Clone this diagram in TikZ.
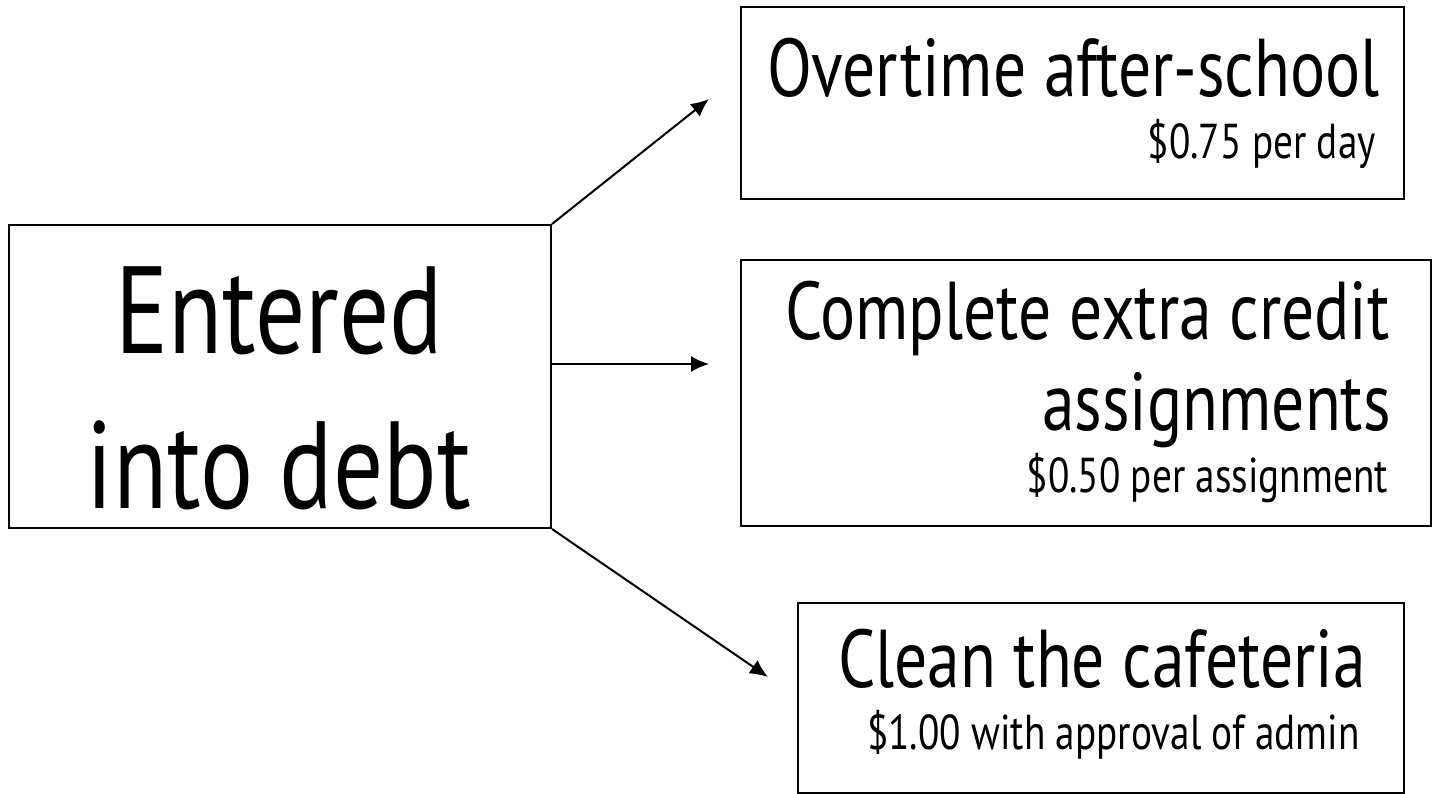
\documentclass[tikz,border=0pt]{standalone}
\usepackage{fontspec}
\newfontfamily\handfont[FakeStretch=0.8]{PT Sans}
\usepackage{tikz}
\usetikzlibrary{arrows.meta}
\usetikzlibrary{positioning}
\tikzset{>={Latex[length=18pt,width=16pt]}}

\begin{document}
\begin{tikzpicture}[x=1pt,y=-1pt,
  card/.style={draw,line width=2pt,anchor=north west,inner sep=0pt},
  headline/.style={font=\handfont\fontsize{82}{90}\selectfont,inner sep=0pt,anchor=base east},
  payline/.style={font=\handfont\fontsize{49}{54}\selectfont,inner sep=0pt,anchor=base east},
  debtline/.style={font=\handfont\fontsize{124}{140}\selectfont,inner sep=0pt,anchor=base}]
  \useasboundingbox (0,0) rectangle (1439,793);
  \node[card,minimum width=542pt,minimum height=303pt] (entered) at (8,224) {};
  \node[card,minimum width=663pt,minimum height=192pt] (overtime) at (740,6) {};
  \node[card,minimum width=690pt,minimum height=266pt] (extra) at (740,259) {};
  \node[card,minimum width=606pt,minimum height=190pt] (cafeteria) at (797,602) {};

  \node[debtline] (debttop) at (279,353) {Entered};
  \node[debtline] (debtbottom) at (279,508) {into debt};

  \node[headline] (overtimehead) at (1380,96.5) {Overtime after-school};
  \node[payline] (overtimepay) at (1376,158) {\$0.75 per day};
  \node[headline] (extrahead) at (1390,339) {Complete extra credit};
  \node[headline] (extrahead2) at (1391,430) {assignments};
  \node[payline] (extrapay) at (1388,492.5) {\$0.50 per assignment};
  \node[headline] (cafeteriahead) at (1366,687.5) {Clean the cafeteria};
  \node[payline] (cafeteriapay) at (1360,749) {\$1.00 with approval of admin};

  \coordinate (overtimetip) at (709,99);
  \coordinate (extratip) at (709,364);
  \coordinate (cafeteriatip) at (768,677);
  \draw[->,line width=2pt] (entered.north east) -- (overtimetip);
  \draw[->,line width=2pt] (entered.east |- extratip) -- (extratip);
  \draw[->,line width=2pt] (entered.south east) -- (cafeteriatip);
\end{tikzpicture}
\end{document}
